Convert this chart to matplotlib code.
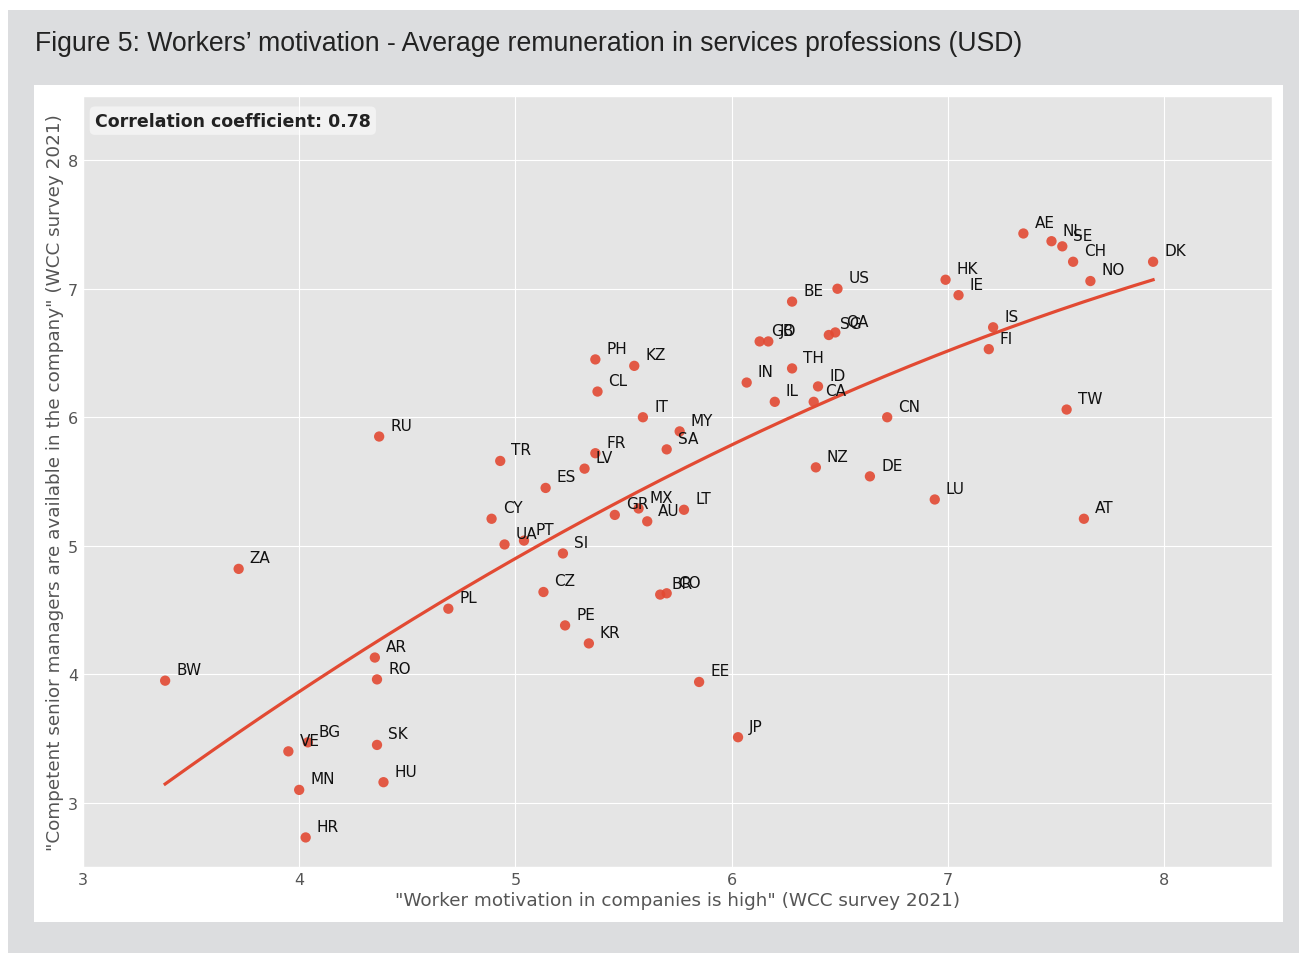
import numpy as np
import matplotlib
matplotlib.use("Agg")
import matplotlib.pyplot as plt
from matplotlib.patches import Rectangle

plt.style.use("ggplot")

# country codes with (motivation, senior managers) survey scores
codes = ["AE", "NL", "SE", "CH", "NO", "DK", "HK", "IE", "IS", "FI",
         "US", "BE", "GB", "JO", "SG", "QA", "TH", "IN", "ID", "IL",
         "CA", "CN", "TW", "PH", "KZ", "CL", "IT", "MY", "SA", "FR",
         "LV", "ES", "TR", "RU", "CY", "UA", "PT", "SI", "GR", "MX",
         "AU", "LT", "CZ", "BR", "CO", "PE", "KR", "EE", "JP", "PL",
         "ZA", "BW", "AR", "RO", "SK", "HU", "VE", "BG", "MN", "HR",
         "NZ", "DE", "LU", "AT"]
motivation = [7.35, 7.48, 7.53, 7.58, 7.66, 7.95, 6.99, 7.05, 7.21, 7.19,
              6.49, 6.28, 6.13, 6.17, 6.45, 6.48, 6.28, 6.07, 6.40, 6.20,
              6.38, 6.72, 7.55, 5.37, 5.55, 5.38, 5.59, 5.76, 5.70, 5.37,
              5.32, 5.14, 4.93, 4.37, 4.89, 4.95, 5.04, 5.22, 5.46, 5.57,
              5.61, 5.78, 5.13, 5.67, 5.70, 5.23, 5.34, 5.85, 6.03, 4.69,
              3.72, 3.38, 4.35, 4.36, 4.36, 4.39, 3.95, 4.04, 4.00, 4.03,
              6.39, 6.64, 6.94, 7.63]
managers = [7.43, 7.37, 7.33, 7.21, 7.06, 7.21, 7.07, 6.95, 6.70, 6.53,
            7.00, 6.90, 6.59, 6.59, 6.64, 6.66, 6.38, 6.27, 6.24, 6.12,
            6.12, 6.00, 6.06, 6.45, 6.40, 6.20, 6.00, 5.89, 5.75, 5.72,
            5.60, 5.45, 5.66, 5.85, 5.21, 5.01, 5.04, 4.94, 5.24, 5.29,
            5.19, 5.28, 4.64, 4.62, 4.63, 4.38, 4.24, 3.94, 3.51, 4.51,
            4.82, 3.95, 4.13, 3.96, 3.45, 3.16, 3.40, 3.47, 3.10, 2.73,
            5.61, 5.54, 5.36, 5.21]

title = "Figure 5: Workers\u2019 motivation - Average remuneration in services professions (USD)"
corr_text = "Correlation coefficient: 0.78"

red = "#E24A33"

fig = plt.figure(figsize=(12.99, 9.54), dpi=100, facecolor="white")
W, H = 1299, 954

# grey page and white panel behind the chart
fig.patches.append(Rectangle((8 / W, 0), 1 - 8 / W, 1 - 11 / H, transform=fig.transFigure,
                             facecolor="#DCDDDF", edgecolor="none", zorder=-2))
fig.patches.append(Rectangle((34 / W, 1 - 923 / H), (1283 - 34) / W, (923 - 86) / H,
                             transform=fig.transFigure, facecolor="white",
                             edgecolor="none", zorder=-1))

fig.text(35 / W, 1 - 44 / H, title, fontsize=19.2, color="#222222",
         family="Liberation Sans", va="center", ha="left")

ax = fig.add_axes([83 / W, 1 - 868 / H, (1272 - 83) / W, (868 - 97) / H])

x = np.array(motivation)
y = np.array(managers)

ax.scatter(x, y, s=55, color=red, alpha=0.9, edgecolors="none", zorder=3)
for c, xi, yi in zip(codes, x, y):
    ax.annotate(c, (xi, yi), xytext=(8, 8), textcoords="offset points",
                fontsize=11, color="#111111", ha="left", va="center")

# quadratic trend through the points
coef = np.polyfit(x, y, 2)
xs = np.linspace(x.min(), x.max(), 200)
ax.plot(xs, np.polyval(coef, xs), color=red, lw=2.3, zorder=2)

ax.text(0.01, 0.968, corr_text, transform=ax.transAxes, fontsize=12.5,
        fontweight="bold", color="#222222", va="center", ha="left",
        bbox=dict(boxstyle="round,pad=0.3", facecolor="white", alpha=0.5,
                  edgecolor="none"))

ax.set_xlim(3, 8.5)
ax.set_ylim(2.5, 8.5)
ax.set_xticks([3, 4, 5, 6, 7, 8])
ax.set_yticks([3, 4, 5, 6, 7, 8])
ax.tick_params(labelsize=11.5, colors="#555555", length=0)
ax.set_xlabel("\"Worker motivation in companies is high\" (WCC survey 2021)",
              fontsize=13.2, color="#555555", labelpad=3)
ax.set_ylabel("\"Competent senior managers are available in the company\" (WCC survey 2021)",
              fontsize=13.2, color="#555555", labelpad=3)

fig.savefig("out.png", dpi=100, facecolor=fig.get_facecolor())
